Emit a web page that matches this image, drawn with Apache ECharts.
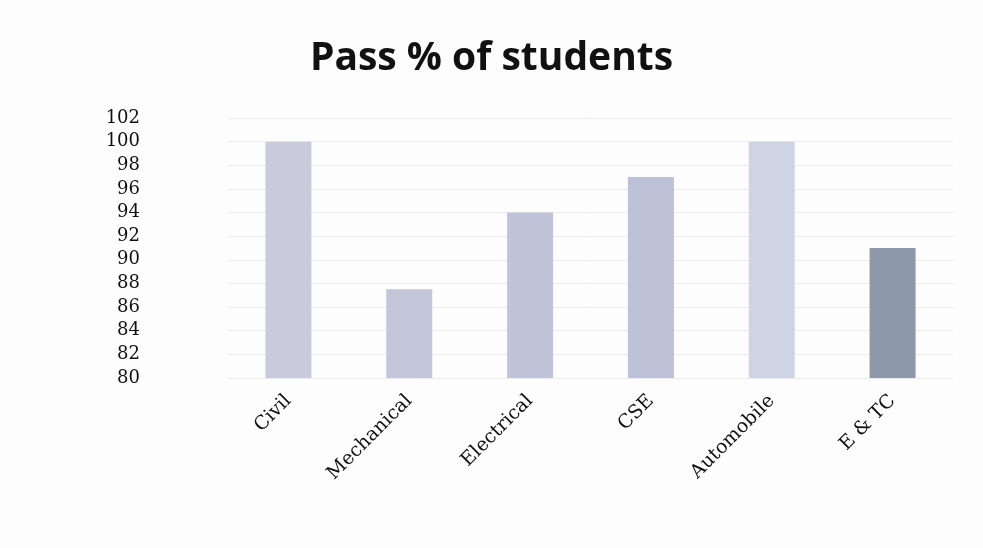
<!DOCTYPE html>
<html><head><meta charset="utf-8">
<script src="https://cdn.jsdelivr.net/npm/echarts@6/dist/echarts.min.js"></script>
<style>html,body{margin:0;padding:0;background:#fdfdfd;}#c{width:983px;height:548px;}</style>
</head><body><div id="c"></div>
<script>
var categories = ["Civil", "Mechanical", "Electrical", "CSE", "Automobile", "E & TC"];
var passPercent = [100, 87.5, 94, 97, 100, 91];
var barColors = ["#c9cbdc", "#c3c6d8", "#c0c4d8", "#bcc1d6", "#cfd4e2", "#8d99a8"];
var yMin = 80, yMax = 102, yStep = 2;

var chart = echarts.init(document.getElementById('c'));
chart.setOption({
  backgroundColor: '#fdfdfd',
  title: {
    text: 'Pass % of students',
    left: 'center', top: 34,
    textStyle: { fontFamily: 'Open Sans', fontWeight: 'bold', fontSize: 39, color: '#111' }
  },
  grid: { left: 228, right: 30, top: 118, bottom: 170 },
  xAxis: {
    type: 'category', data: categories,
    axisLine: { show: false }, axisTick: { show: false },
    axisLabel: { rotate: 45, margin: 20, fontFamily: 'DejaVu Serif', fontSize: 19, color: '#111' }
  },
  yAxis: {
    type: 'value', min: yMin, max: yMax, interval: yStep,
    axisLine: { show: false }, axisTick: { show: false },
    splitLine: { lineStyle: { color: '#ececec', width: 1 } },
    axisLabel: { margin: 88, fontFamily: 'DejaVu Serif', fontSize: 18, color: '#111' }
  },
  series: [{
    type: 'bar', barWidth: 46,
    data: passPercent.map(function (v, i) { return { value: v, itemStyle: { color: barColors[i] } }; })
  }]
});
</script></body></html>
